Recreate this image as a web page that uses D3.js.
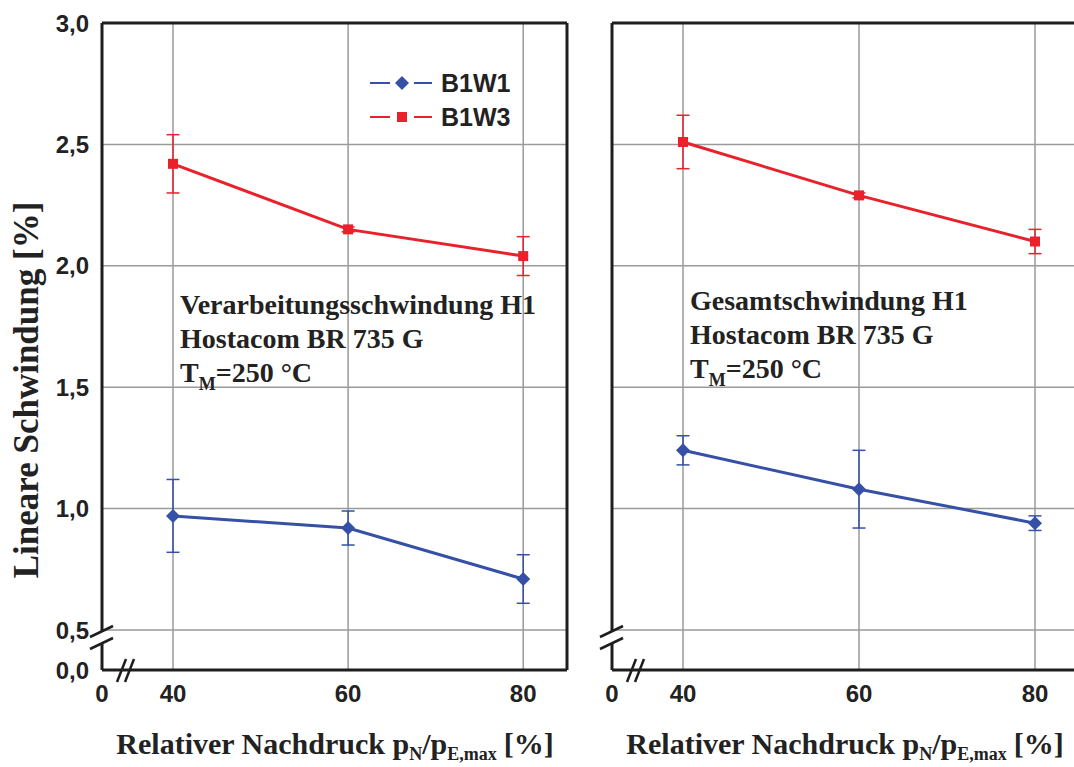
<!DOCTYPE html>
<html><head><meta charset="utf-8">
<script src="https://cdn.jsdelivr.net/npm/d3@7"></script>
<style>body{margin:0;background:#fff}svg{display:block}</style>
</head><body><svg id="c" width="1074" height="767"></svg>
<script>
// ---- data ----
const categories = [40, 60, 80];
const xTicks = [0, 40, 60, 80];
const yTicks = [0.5, 1.0, 1.5, 2.0, 2.5, 3.0];
const yTickLabels = ["0,0", "0,5", "1,0", "1,5", "2,0", "2,5", "3,0"];
const seriesNames = ["B1W1", "B1W3"];

// left panel: Verarbeitungsschwindung
const leftB1W1 = [0.97, 0.92, 0.71];
const leftB1W1Low = [0.82, 0.85, 0.61];
const leftB1W1High = [1.12, 0.99, 0.81];
const leftB1W3 = [2.42, 2.15, 2.04];
const leftB1W3Low = [2.30, 2.14, 1.96];
const leftB1W3High = [2.54, 2.16, 2.12];

// right panel: Gesamtschwindung
const rightB1W1 = [1.24, 1.08, 0.94];
const rightB1W1Low = [1.18, 0.92, 0.91];
const rightB1W1High = [1.30, 1.24, 0.97];
const rightB1W3 = [2.51, 2.29, 2.10];
const rightB1W3Low = [2.40, 2.28, 2.05];
const rightB1W3High = [2.62, 2.30, 2.15];

const leftNote = ["Verarbeitungsschwindung H1", "Hostacom BR 735 G"];
const rightNote = ["Gesamtschwindung H1", "Hostacom BR 735 G"];

// ---- drawing ----
const svg = d3.select("#c");
const BLUE = "#3550a6", RED = "#e8212b", GRID = "#9a9a9a", FRAME = "#1e1e1e";
const SANS = "'Liberation Sans', Arial, sans-serif";
const SERIF = "'Liberation Serif', 'Times New Roman', serif";

const plotTop = 23, plotBottom = 670;
const y = d3.scaleLinear().domain([0, 0.5, 3.0]).range([plotBottom, 630, plotTop]);

const panels = [
  {left: 102, x40: 173, right: 567, xmaxVal: 85, series: [
    {vals: leftB1W1, lo: leftB1W1Low, hi: leftB1W1High, color: BLUE, marker: "diamond"},
    {vals: leftB1W3, lo: leftB1W3Low, hi: leftB1W3High, color: RED, marker: "square"}],
   note: leftNote, noteX: 180, noteY: 314, yLabels: true, titleX: 335, legend: true},
  {left: 612, x40: 683, right: 1079, xmaxVal: 85, series: [
    {vals: rightB1W1, lo: rightB1W1Low, hi: rightB1W1High, color: BLUE, marker: "diamond"},
    {vals: rightB1W3, lo: rightB1W3Low, hi: rightB1W3High, color: RED, marker: "square"}],
   note: rightNote, noteX: 690, noteY: 310, yLabels: false, titleX: 845, legend: false}
];

function drawMarker(g, type, cx, cy, color) {
  if (type === "diamond") {
    const s = 7;
    g.append("path").attr("d", `M${cx},${cy-s}L${cx+s},${cy}L${cx},${cy+s}L${cx-s},${cy}Z`).attr("fill", color);
  } else {
    g.append("rect").attr("x", cx-5).attr("y", cy-5).attr("width", 10).attr("height", 10).attr("fill", color);
  }
}

panels.forEach(p => {
  const x = d3.scaleLinear().domain([0, 40, p.xmaxVal]).range([p.left, p.x40, p.right]);
  const g = svg.append("g");

  // grid
  g.selectAll(".vg").data(categories).join("line")
    .attr("x1", d => x(d)).attr("x2", d => x(d)).attr("y1", plotTop).attr("y2", plotBottom)
    .attr("stroke", GRID).attr("stroke-width", 1.5);
  g.selectAll(".hg").data(yTicks.filter(v => v < 3)).join("line")
    .attr("x1", p.left).attr("x2", p.right).attr("y1", d => y(d)).attr("y2", d => y(d))
    .attr("stroke", GRID).attr("stroke-width", 1.5);

  // frame
  const fr = g.append("g").attr("stroke", FRAME).attr("stroke-width", 3).attr("fill", "none");
  fr.append("line").attr("x1", p.left).attr("x2", p.right).attr("y1", plotTop).attr("y2", plotTop);
  fr.append("line").attr("x1", p.left).attr("x2", p.right).attr("y1", plotBottom).attr("y2", plotBottom);
  fr.append("line").attr("x1", p.right).attr("x2", p.right).attr("y1", plotTop).attr("y2", plotBottom);
  fr.append("line").attr("x1", p.left).attr("x2", p.left).attr("y1", plotTop).attr("y2", 632);
  fr.append("line").attr("x1", p.left).attr("x2", p.left).attr("y1", 643).attr("y2", plotBottom);
  // axis breaks
  const br = g.append("g").attr("stroke", FRAME).attr("stroke-width", 2.5);
  br.append("line").attr("x1", p.left-12).attr("y1", 637).attr("x2", p.left+11).attr("y2", 626);
  br.append("line").attr("x1", p.left-12).attr("y1", 649).attr("x2", p.left+11).attr("y2", 638);
  br.append("line").attr("x1", p.left+15).attr("y1", 682).attr("x2", p.left+24).attr("y2", 659);
  br.append("line").attr("x1", p.left+23).attr("y1", 682).attr("x2", p.left+32).attr("y2", 659);

  // x tick labels
  g.selectAll(".xt").data(xTicks).join("text")
    .attr("x", d => x(d)).attr("y", 702).attr("text-anchor", "middle")
    .attr("font-family", SANS).attr("font-weight", "bold").attr("font-size", 24).attr("fill", "#222")
    .text(d => d);

  // y tick labels
  if (p.yLabels) {
    g.selectAll(".yt").data([0].concat(yTicks)).join("text")
      .attr("x", 89).attr("y", d => y(d) + 8.5).attr("text-anchor", "end")
      .attr("font-family", SANS).attr("font-weight", "bold").attr("font-size", 24).attr("fill", "#222")
      .text((d, i) => yTickLabels[i]);
  }

  // series
  p.series.forEach(s => {
    const sg = g.append("g");
    const pts = categories.map((c, i) => [x(c), y(s.vals[i])]);
    sg.append("path").attr("d", d3.line()(pts)).attr("fill", "none")
      .attr("stroke", s.color).attr("stroke-width", 3);
    categories.forEach((c, i) => {
      const cx = x(c);
      sg.append("line").attr("x1", cx).attr("x2", cx).attr("y1", y(s.lo[i])).attr("y2", y(s.hi[i]))
        .attr("stroke", s.color).attr("stroke-width", 1.5);
      [s.lo[i], s.hi[i]].forEach(v => sg.append("line").attr("x1", cx-6.5).attr("x2", cx+6.5)
        .attr("y1", y(v)).attr("y2", y(v)).attr("stroke", s.color).attr("stroke-width", 1.5));
      drawMarker(sg, s.marker, cx, y(s.vals[i]), s.color);
    });
  });

  // annotation
  const ng = g.append("g").attr("font-family", SERIF).attr("font-weight", "bold").attr("font-size", 28).attr("fill", "#222");
  p.note.forEach((t, i) => ng.append("text").attr("x", p.noteX).attr("y", p.noteY + 34*i).text(t));
  const tm = ng.append("text").attr("x", p.noteX).attr("y", p.noteY + 68);
  tm.append("tspan").text("T");
  tm.append("tspan").attr("dy", 8).attr("font-size", 18).text("M");
  tm.append("tspan").attr("dy", -8).text("=250 °C");

  // x title
  const xt = g.append("text").attr("x", p.titleX).attr("y", 754).attr("text-anchor", "middle")
    .attr("font-family", SERIF).attr("font-weight", "bold").attr("font-size", 30).attr("fill", "#222");
  xt.append("tspan").text("Relativer Nachdruck p");
  xt.append("tspan").attr("dy", 6).attr("font-size", 18).text("N");
  xt.append("tspan").attr("dy", -6).text("/p");
  xt.append("tspan").attr("dy", 6).attr("font-size", 18).text("E,max");
  xt.append("tspan").attr("dy", -6).attr("dx", 7).text("[%]");

  // legend
  if (p.legend) {
    const lg = g.append("g");
    p.series.forEach((s, i) => {
      const ly = 83 + 34*i;
      lg.append("line").attr("x1", 370).attr("x2", 432).attr("y1", ly).attr("y2", ly).attr("stroke", s.color).attr("stroke-width", 2);
      lg.append("rect").attr("x", 390).attr("y", ly-8).attr("width", 24).attr("height", 16).attr("fill", "#fff");
      drawMarker(lg, s.marker, 402, ly, s.color);
      lg.append("text").attr("x", 441).attr("y", ly + 9).attr("font-family", SANS).attr("font-weight", "bold")
        .attr("font-size", 25).attr("fill", "#222").text(seriesNames[i]);
    });
  }
});

// y title
svg.append("text").attr("transform", "translate(38,390) rotate(-90)").attr("text-anchor", "middle")
  .attr("font-family", SERIF).attr("font-weight", "bold").attr("font-size", 35).attr("fill", "#222")
  .text("Lineare Schwindung [%]");
</script></body></html>
